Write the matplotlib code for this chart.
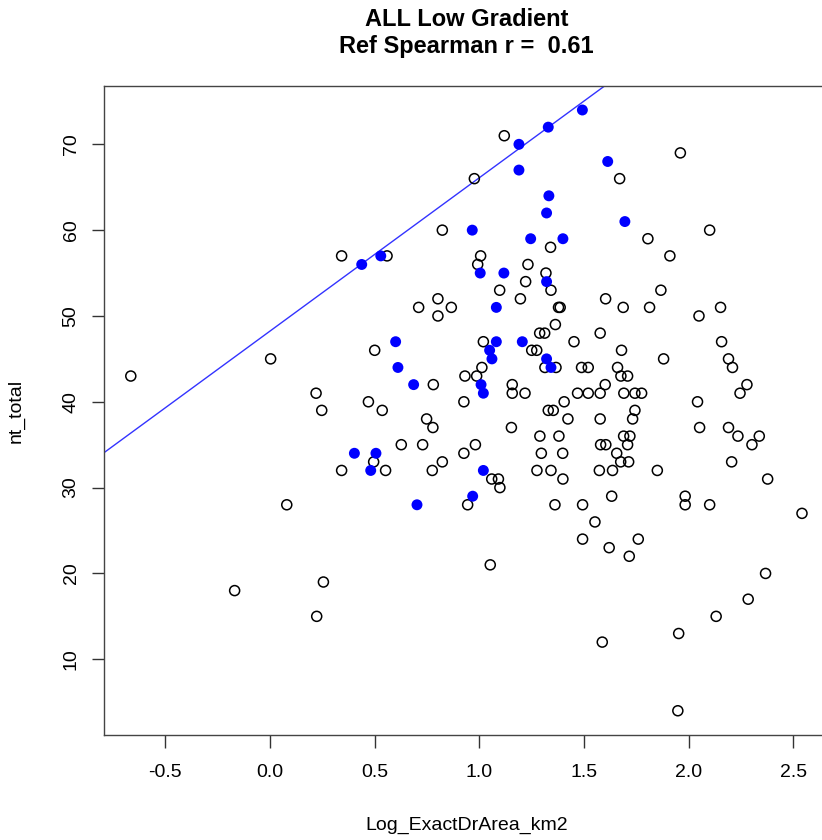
import matplotlib
matplotlib.use('Agg')
import matplotlib.pyplot as plt

plt.rcParams['font.family'] = ['Liberation Sans', 'DejaVu Sans']
plt.rcParams['axes.unicode_minus'] = False

# open circles (all sites)
open_x = [0.342, 1.119, 0.976, 0.823, 1.340, 1.006, 0.559, 0.992, 1.232, 1.318, 1.221,
          1.960, 1.670, 1.805, 2.100, 1.910,
          -0.665, 0.003, 0.220, 0.247, 0.342, 0.080,
          1.097, 1.342, 1.196, 0.802, 0.710, 0.866, 1.378, 1.386, 0.802, 1.363, 1.288, 1.312,
          1.019, 1.452, 0.500, 1.250, 1.274, 1.012, 1.313, 1.366, 1.488, 1.520, 0.931, 0.987,
          0.780, 1.157, 1.157, 1.218, 1.469, 1.520, 0.470, 0.926, 1.405, 0.536, 1.329, 1.353,
          1.423, 0.748, 0.778, 1.153, 1.289, 1.380, 0.627, 0.729, 0.981, 0.926, 1.296, 1.398,
          0.495, 0.823, 0.552, 0.775, 1.275, 1.342, 1.059, 1.091, 1.399, 1.098, 0.944, 1.361,
          1.493,
          1.867, 1.603, 1.687, 1.813, 2.152, 2.049, 1.577, 2.157, 1.679, 1.880, 2.190, 2.209,
          1.660, 1.676, 1.708, 1.601, 2.278, 1.577, 1.690, 1.743, 1.775, 2.245, 2.042, 1.743,
          1.732, 1.577, 2.052, 2.190, 1.689, 1.719, 2.235, 2.337, 1.579, 1.604, 1.708, 2.302,
          1.656, 1.675, 1.713, 2.205, 1.573, 1.636, 1.850, 2.377, 1.632, 1.983, 1.983, 2.100,
          2.541, 1.552, 1.493, 1.620, 1.759, 1.716, 2.367, 2.284, 2.131, 1.952, 1.587, 1.948,
          1.052, -0.169, 0.255, 0.223]
open_y = [57, 71, 66, 60, 58, 57, 57, 56, 56, 55, 54,
          69, 66, 59, 60, 57,
          43, 45, 41, 39, 32, 28,
          53, 53, 52, 52, 51, 51, 51, 51, 50, 49, 48, 48,
          47, 47, 46, 46, 46, 44, 44, 44, 44, 44, 43, 43,
          42, 42, 41, 41, 41, 41, 40, 40, 40, 39, 39, 39,
          38, 38, 37, 37, 36, 36, 35, 35, 35, 34, 34, 34,
          33, 33, 32, 32, 32, 32, 31, 31, 31, 30, 28, 28,
          28,
          53, 52, 51, 51, 51, 50, 48, 47, 46, 45, 45, 44,
          44, 43, 43, 42, 42, 41, 41, 41, 41, 41, 40, 39,
          38, 38, 37, 37, 36, 36, 36, 36, 35, 35, 35, 35,
          34, 33, 33, 33, 32, 32, 32, 31, 29, 29, 28, 28,
          27, 26, 24, 23, 24, 22, 20, 17, 15, 13, 12, 4,
          21, 18, 19, 15]

# reference sites (filled blue)
ref_x = [1.492, 1.329, 1.189, 1.189, 1.332, 1.321, 0.966, 1.245, 1.399, 0.438, 0.529,
         1.004, 1.117, 1.321, 1.613, 1.695, 1.081, 0.600, 1.081, 1.205, 1.049, 1.060,
         1.321, 0.611, 1.342, 0.686, 1.008, 1.019, 0.403, 0.506, 0.481, 1.019, 0.968, 0.702]
ref_y = [74, 72, 70, 67, 64, 62, 60, 59, 59, 56, 57,
         55, 55, 54, 68, 61, 51, 47, 47, 47, 46, 45,
         45, 44, 44, 42, 42, 41, 34, 34, 32, 32, 29, 28]

line_intercept = 48.24
line_slope = 17.87

x_ticks = [-0.5, 0.0, 0.5, 1.0, 1.5, 2.0, 2.5]
x_labels = ['-0.5', '0.0', '0.5', '1.0', '1.5', '2.0', '2.5']
y_ticks = [10, 20, 30, 40, 50, 60, 70]

fig = plt.figure(figsize=(8.22, 8.4), dpi=100)
ax = fig.add_axes([104 / 822, 1 - 735.3 / 840, (829 - 104) / 822, (735.3 - 85.7) / 840])

ax.scatter(open_x, open_y, s=52, facecolors='none', edgecolors='black', linewidths=1.1, zorder=3)
ax.scatter(ref_x, ref_y, s=62, color='#0000ff', edgecolors='none', zorder=4)
ax.axline((0, line_intercept), slope=line_slope, color='#3333ff', lw=1.0, zorder=2)

ax.set_xlim(-0.793, 2.670)
ax.set_ylim(1.14, 76.83)
ax.set_xticks(x_ticks)
ax.set_xticklabels(x_labels)
ax.set_yticks(y_ticks)

for s in ax.spines.values():
    s.set_color('#444444')
    s.set_linewidth(1.0)

ax.tick_params(axis='both', direction='out', length=9, width=1, color='#333333',
               labelsize=14, labelcolor='black')
ax.tick_params(axis='x', pad=11.5)
ax.tick_params(axis='y', pad=8.5, labelrotation=90)
for lab in ax.get_yticklabels():
    lab.set_va('center')

ax.set_xlabel('Log_ExactDrArea_km2', fontsize=14)
ax.set_ylabel('nt_total', fontsize=14)
ax.xaxis.set_label_coords(0.5, -(825 - 735.3) / 649.6)
ax.xaxis.label.set_va('center')
ax.yaxis.set_label_coords(-(104 - 16) / 725, 0.5)
ax.yaxis.label.set_va('center')

fig.text(466.5 / 822, 1 - 19 / 840, 'ALL Low Gradient', ha='center', va='center',
         fontsize=17, fontweight='bold')
fig.text(466.5 / 822, 1 - 47 / 840, 'Ref Spearman r =  0.61', ha='center', va='center',
         fontsize=17, fontweight='bold')

fig.savefig('out.png', dpi=100)
